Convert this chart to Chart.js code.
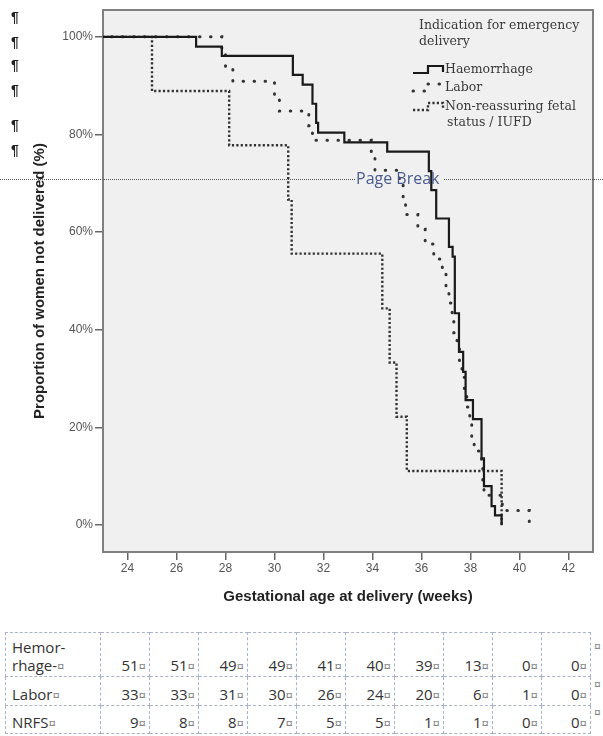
<!DOCTYPE html>
<html>
<head>
<meta charset="utf-8">
<script src="https://cdn.jsdelivr.net/npm/chart.js@4.4.1/dist/chart.umd.min.js"></script>
<style>
  html, body { margin: 0; padding: 0; background: #fff; }
  #page { position: relative; width: 603px; height: 736px; overflow: hidden; }
  #chartBox { position: absolute; left: 0; top: 0; width: 603px; height: 615px; }
  .pil { position: absolute; left: 11px; font: bold 14px "Liberation Sans", sans-serif; color: #222; line-height: 16px; }
  .pb-line { position: absolute; top: 179px; height: 0; border-top: 1px dotted #555; }
  #pbText { position: absolute; left: 356px; top: 167px; font: 16px "Open Sans", sans-serif; color: #4a5b8c; line-height: 22px; }
  #riskTable { position: absolute; left: 5px; top: 632px; border-collapse: collapse; table-layout: fixed;
               font: 15px "Open Sans", sans-serif; color: #333; }
  #riskTable td { border: 1px dashed #a8b3cf; padding: 0 3px 1px 6px; text-align: right; vertical-align: bottom; line-height: 18px; }
  #riskTable td.lab { text-align: left; }
  .cur { color: #777; font-size: 13px; }
  .rowEnd { position: absolute; left: 594px; font: 12px "Open Sans", sans-serif; color: #777; }
</style>
</head>
<body>
<div id="page">
  <div id="chartBox"><canvas id="km" width="603" height="615"></canvas></div>
  <div class="pb-line" style="left:0; width:355px;"></div>
  <div class="pb-line" style="left:444px; width:159px;"></div>
  <div id="pbText">Page Break</div>
  <table id="riskTable"></table>
</div>
<script>
// Kaplan-Meier: proporsi belum melahirkan per minggu gestasi
const xTicks = [24, 26, 28, 30, 32, 34, 36, 38, 40, 42];
const yTicks = [0, 20, 40, 60, 80, 100];

const haemWeeks = [0, 26.8, 27.85, 30.75, 31.15, 31.55, 31.7, 31.78, 32.85, 34.6, 36.3, 36.4, 36.6, 37.12, 37.27, 37.36, 37.53, 37.7, 37.8, 38.1, 38.45, 38.55, 38.86, 39.0, 39.27];
const haemPct   = [100, 98.0, 96.1, 92.2, 90.2, 86.3, 82.4, 80.4, 78.4, 76.5, 72.5, 68.6, 62.8, 57.0, 55.0, 43.4, 35.5, 31.4, 25.6, 21.7, 13.7, 8.0, 3.9, 2.0, 0];

const laborWeeks = [0, 27.85, 28.0, 28.3, 30.0, 30.2, 31.4, 31.55, 33.95, 34.1, 35.1, 35.25, 35.35, 35.85, 36.15, 36.5, 36.85, 37.0, 37.12, 37.25, 37.32, 37.45, 37.55, 37.65, 37.75, 37.85, 37.97, 38.05, 38.15, 38.45, 38.5, 38.55, 39.3, 40.4];
const laborPct   = [100, 97.0, 93.9, 90.9, 87.9, 84.8, 81.8, 78.8, 75.8, 72.7, 69.7, 66.7, 63.6, 60.6, 57.6, 54.5, 51.5, 48.5, 45.5, 42.4, 39.4, 36.4, 33.3, 30.3, 27.3, 24.2, 21.2, 18.2, 15.2, 12.1, 9.1, 6.1, 3.0, 0];

const nrfsWeeks = [0, 25.0, 28.15, 30.56, 30.7, 34.4, 34.7, 34.98, 35.4, 39.27];
const nrfsPct   = [100, 88.9, 77.8, 66.7, 55.6, 44.4, 33.3, 22.2, 11.1, 0];

const seriesNames = ['Haemorrhage', 'Labor', 'Non-reassuring fetal status / IUFD'];
const legendTitle = ['Indication for emergency', 'delivery'];
const xTitle = 'Gestational age at delivery (weeks)';
const yTitle = 'Proportion of women not delivered (%)';

// tabel jumlah at risk
const riskLabels = ['Hemor-\nrhage-', 'Labor', 'NRFS'];
const riskHaem  = [51, 51, 49, 49, 41, 40, 39, 13, 0, 0];
const riskLabor = [33, 33, 31, 30, 26, 24, 20, 6, 1, 0];
const riskNrfs  = [9, 8, 8, 7, 5, 5, 1, 1, 0, 0];

const toPts = (w, p) => w.map((v, i) => ({ x: v, y: p[i] }));

// background abu-abu + bingkai plot
const framePlugin = {
  id: 'frame',
  beforeDatasetsDraw(chart) {
    const a = chart.chartArea, ctx = chart.ctx;
    ctx.save();
    ctx.fillStyle = '#f0f0f0';
    ctx.fillRect(a.left, a.top, a.right - a.left, a.bottom - a.top);
    ctx.strokeStyle = '#808080';
    ctx.lineWidth = 2;
    ctx.strokeRect(a.left, a.top, a.right - a.left, a.bottom - a.top);
    ctx.restore();
  }
};

// legend custom (judul 2 baris + ikon tangga)
const legendPlugin = {
  id: 'kmLegend',
  afterDraw(chart) {
    const ctx = chart.ctx;
    ctx.save();
    ctx.font = '12.5px "DejaVu Serif", serif';
    ctx.fillStyle = '#3a3a3a';
    ctx.textBaseline = 'middle';
    ctx.fillText(legendTitle[0], 419, 26);
    ctx.fillText(legendTitle[1], 419, 42);
    const rowsY = [70, 88, 107];
    chart.data.datasets.forEach((ds, i) => {
      const y = rowsY[i];
      ctx.save();
      ctx.strokeStyle = ds.borderColor;
      ctx.lineWidth = ds.borderWidth;
      ctx.lineCap = ds.borderCapStyle || 'butt';
      ctx.setLineDash(ds.borderDash || []);
      ctx.beginPath();
      ctx.moveTo(413, y + 3);
      ctx.lineTo(428, y + 3);
      ctx.lineTo(428, y - 4);
      ctx.lineTo(443, y - 4);
      ctx.lineTo(443, y + 2);
      ctx.stroke();
      ctx.restore();
      if (i === 2) {
        ctx.fillText('Non-reassuring fetal', 445, y);
        ctx.fillText('status / IUFD', 447, y + 16);
      } else {
        ctx.fillText(ds.label, 445, y);
      }
    });
    ctx.restore();
  }
};

new Chart(document.getElementById('km'), {
  type: 'line',
  data: {
    datasets: [
      { label: seriesNames[0], data: toPts(haemWeeks, haemPct), stepped: 'before',
        borderColor: '#1a1a1a', borderWidth: 2.2, fill: false },
      { label: seriesNames[1], data: toPts(laborWeeks, laborPct), stepped: 'before',
        borderColor: '#333', borderWidth: 3, borderDash: [0.5, 10.5], borderCapStyle: 'round', fill: false },
      { label: seriesNames[2], data: toPts(nrfsWeeks, nrfsPct), stepped: 'before',
        borderColor: '#333', borderWidth: 2.4, borderDash: [2.2, 2.2], fill: false }
    ]
  },
  options: {
    responsive: false,
    animation: false,
    layout: { padding: { top: 10, right: 10, left: 0, bottom: 0 } },
    elements: { point: { radius: 0 } },
    plugins: { legend: { display: false }, tooltip: { enabled: false } },
    scales: {
      x: {
        type: 'linear', min: 23, max: 43,
        afterBuildTicks: s => { s.ticks = xTicks.map(v => ({ value: v })); },
        afterFit: s => { s.height = 63; },
        grid: { display: true, drawOnChartArea: false, drawTicks: true, tickLength: 8, color: '#666', lineWidth: 1.5 },
        border: { display: false },
        ticks: { padding: 1, color: '#555', autoSkip: false, maxRotation: 0,
                 font: { family: 'Liberation Sans', size: 12 } },
        title: { display: true, text: xTitle, color: '#222',
                 font: { family: 'Liberation Sans', size: 15, weight: 'bold' }, padding: { top: 0, bottom: 9 } }
      },
      y: {
        type: 'linear', min: -5.5, max: 105.5,
        afterBuildTicks: s => { s.ticks = yTicks.map(v => ({ value: v })); },
        afterFit: s => { s.width = 103; },
        grid: { display: true, drawOnChartArea: false, drawTicks: true, tickLength: 8, color: '#666', lineWidth: 1.5 },
        border: { display: false },
        ticks: { padding: 2, color: '#555', autoSkip: false, callback: v => v + '%',
                 font: { family: 'Liberation Sans', size: 12 } },
        title: { display: true, text: yTitle, color: '#222',
                 font: { family: 'Liberation Sans', size: 15, weight: 'bold' }, padding: { top: 31, bottom: 0 } }
      }
    }
  },
  plugins: [framePlugin, legendPlugin]
});

// pilcrow di kiri (tanda paragraf Word)
[17, 42, 65, 90, 125, 150].forEach(y => {
  const p = document.createElement('div');
  p.className = 'pil';
  p.style.top = (y - 8) + 'px';
  p.textContent = '¶';
  document.getElementById('page').appendChild(p);
});

// bangun tabel at-risk
const tbl = document.getElementById('riskTable');
const colg = document.createElement('colgroup');
colg.innerHTML = '<col style="width:95px">' + riskHaem.map(() => '<col style="width:49px">').join('');
tbl.appendChild(colg);
const rowHeights = [44, 29, 28];
[riskHaem, riskLabor, riskNrfs].forEach((vals, r) => {
  const tr = document.createElement('tr');
  tr.style.height = rowHeights[r] + 'px';
  const lab = document.createElement('td');
  lab.className = 'lab';
  lab.innerHTML = riskLabels[r].replace('\n', '<br>') + '<span class="cur">¤</span>';
  tr.appendChild(lab);
  vals.forEach(v => {
    const td = document.createElement('td');
    td.innerHTML = v + '<span class="cur">¤</span>';
    tr.appendChild(td);
  });
  tbl.appendChild(tr);
});
[638, 676, 704].forEach(y => {
  const m = document.createElement('div');
  m.className = 'rowEnd';
  m.style.top = y + 'px';
  m.textContent = '¤';
  document.getElementById('page').appendChild(m);
});
</script>
</body>
</html>
